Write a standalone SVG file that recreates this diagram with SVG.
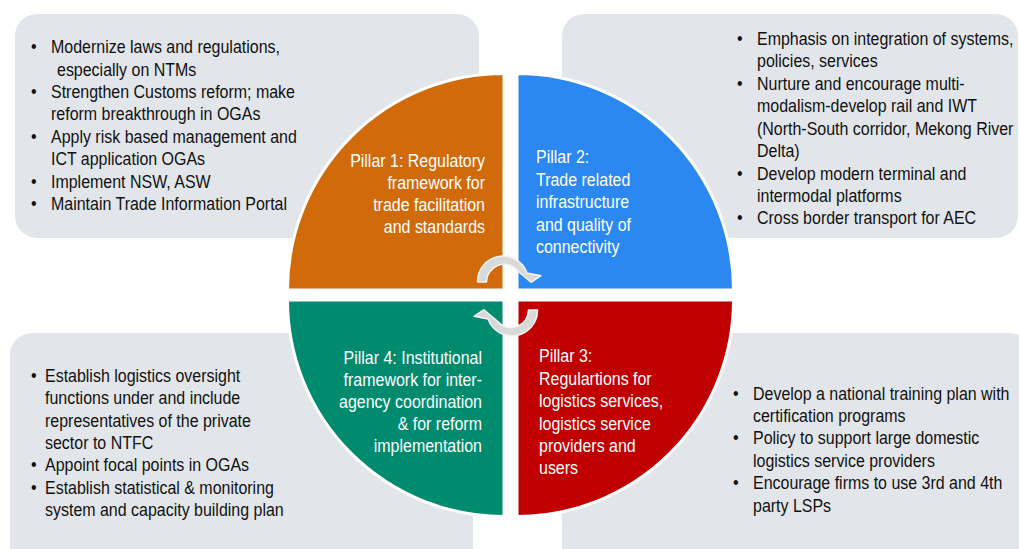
<svg xmlns="http://www.w3.org/2000/svg" width="1019" height="549" viewBox="0 0 1019 549">
<style>
.box{fill:#E2E6EA}
.q{stroke:#FFFFFF;stroke-width:3}
.t{font-family:"Liberation Sans",Arial,sans-serif;font-size:18.5px;fill:#111111}
.w{font-family:"Liberation Sans",Arial,sans-serif;font-size:18.5px;fill:#FFFFFF}
.r{text-anchor:end}
.arr{fill:#D9D9D9;stroke:#F4F4F4;stroke-width:1.5;stroke-linejoin:round}
</style>
<rect width="1019" height="549" fill="#FFFFFF"/>
<g id="box1">
<rect class="box" x="15" y="14" width="464" height="224" rx="22"/>
<text class="t" transform="matrix(.864 0 0 1 31 53)">•</text><text class="t" transform="matrix(.864 0 0 1 51 53)">Modernize laws and regulations,</text>
<text class="t" transform="matrix(.864 0 0 1 57 75.5)">especially on NTMs</text>
<text class="t" transform="matrix(.864 0 0 1 31 98)">•</text><text class="t" transform="matrix(.864 0 0 1 51 98)">Strengthen Customs reform; make</text>
<text class="t" transform="matrix(.864 0 0 1 51 120)">reform breakthrough in OGAs</text>
<text class="t" transform="matrix(.864 0 0 1 31 142.5)">•</text><text class="t" transform="matrix(.864 0 0 1 51 142.5)">Apply risk based management and</text>
<text class="t" transform="matrix(.864 0 0 1 51 165)">ICT application OGAs</text>
<text class="t" transform="matrix(.864 0 0 1 31 187.5)">•</text><text class="t" transform="matrix(.864 0 0 1 51 187.5)">Implement NSW, ASW</text>
<text class="t" transform="matrix(.864 0 0 1 31 210)">•</text><text class="t" transform="matrix(.864 0 0 1 51 210)">Maintain Trade Information Portal</text>
</g>
<g id="box2">
<rect class="box" x="562" y="14" width="456" height="224" rx="22"/>
<text class="t" transform="matrix(.864 0 0 1 737 45)">•</text><text class="t" transform="matrix(.864 0 0 1 757 45)">Emphasis on integration of systems,</text>
<text class="t" transform="matrix(.864 0 0 1 757 67)">policies, services</text>
<text class="t" transform="matrix(.864 0 0 1 737 90)">•</text><text class="t" transform="matrix(.864 0 0 1 757 90)">Nurture and encourage multi-</text>
<text class="t" transform="matrix(.864 0 0 1 757 112)">modalism-develop rail and IWT</text>
<text class="t" transform="matrix(.864 0 0 1 757 134.5)">(North-South corridor, Mekong River</text>
<text class="t" transform="matrix(.864 0 0 1 757 157)">Delta)</text>
<text class="t" transform="matrix(.864 0 0 1 737 179.5)">•</text><text class="t" transform="matrix(.864 0 0 1 757 179.5)">Develop modern terminal and</text>
<text class="t" transform="matrix(.864 0 0 1 757 201.5)">intermodal platforms</text>
<text class="t" transform="matrix(.864 0 0 1 737 224)">•</text><text class="t" transform="matrix(.864 0 0 1 757 224)">Cross border transport for AEC</text>
</g>
<g id="box4">
<rect class="box" x="10" y="333" width="463" height="240" rx="22"/>
<text class="t" transform="matrix(.864 0 0 1 31 382)">•</text><text class="t" transform="matrix(.864 0 0 1 45 382)">Establish logistics oversight</text>
<text class="t" transform="matrix(.864 0 0 1 45 404)">functions under and include</text>
<text class="t" transform="matrix(.864 0 0 1 45 426.5)">representatives of the private</text>
<text class="t" transform="matrix(.864 0 0 1 45 448.5)">sector to NTFC</text>
<text class="t" transform="matrix(.864 0 0 1 31 471)">•</text><text class="t" transform="matrix(.864 0 0 1 45 471)">Appoint focal points in OGAs</text>
<text class="t" transform="matrix(.864 0 0 1 31 493.5)">•</text><text class="t" transform="matrix(.864 0 0 1 45 493.5)">Establish statistical &amp; monitoring</text>
<text class="t" transform="matrix(.864 0 0 1 45 516)">system and capacity building plan</text>
</g>
<g id="box3">
<rect class="box" x="562" y="333" width="470" height="240" rx="22"/>
<text class="t" transform="matrix(.864 0 0 1 733 399.5)">•</text><text class="t" transform="matrix(.864 0 0 1 753 399.5)">Develop a national training plan with</text>
<text class="t" transform="matrix(.864 0 0 1 753 422)">certification programs</text>
<text class="t" transform="matrix(.864 0 0 1 733 444)">•</text><text class="t" transform="matrix(.864 0 0 1 753 444)">Policy to support large domestic</text>
<text class="t" transform="matrix(.864 0 0 1 753 466.5)">logistics service providers</text>
<text class="t" transform="matrix(.864 0 0 1 733 489)">•</text><text class="t" transform="matrix(.864 0 0 1 753 489)">Encourage firms to use 3rd and 4th</text>
<text class="t" transform="matrix(.864 0 0 1 753 511.5)">party LSPs</text>
</g>
<g id="pillar1">
<path class="q" fill="#D16A0B" d="M504,290 L287.5,290 A216.5,216.5 0 0 1 504,73.5 Z"/>
<text class="w r" transform="matrix(.864 0 0 1 485 166.5)">Pillar 1: Regulatory</text>
<text class="w r" transform="matrix(.864 0 0 1 485 188.5)">framework for</text>
<text class="w r" transform="matrix(.864 0 0 1 485 211)">trade facilitation</text>
<text class="w r" transform="matrix(.864 0 0 1 485 233)">and standards</text>
</g>
<g id="pillar2">
<path class="q" fill="#2B88F0" d="M517,290 L517,73.5 A216.5,216.5 0 0 1 733.5,290 Z"/>
<text class="w" transform="matrix(.864 0 0 1 536 163)">Pillar 2:</text>
<text class="w" transform="matrix(.864 0 0 1 536 185.5)">Trade related</text>
<text class="w" transform="matrix(.864 0 0 1 536 208)">infrastructure</text>
<text class="w" transform="matrix(.864 0 0 1 536 230.5)">and quality of</text>
<text class="w" transform="matrix(.864 0 0 1 536 252.5)">connectivity</text>
</g>
<g id="pillar4">
<path class="q" fill="#008A6E" d="M504,300 L504,516.5 A216.5,216.5 0 0 1 287.5,300 Z"/>
<text class="w r" transform="matrix(.864 0 0 1 482 363.5)">Pillar 4: Institutional</text>
<text class="w r" transform="matrix(.864 0 0 1 482 385.5)">framework for inter-</text>
<text class="w r" transform="matrix(.864 0 0 1 482 407.5)">agency coordination</text>
<text class="w r" transform="matrix(.864 0 0 1 482 430)">&amp; for reform</text>
<text class="w r" transform="matrix(.864 0 0 1 482 452)">implementation</text>
</g>
<g id="pillar3">
<path class="q" fill="#C00000" d="M517,300 L733.5,300 A216.5,216.5 0 0 1 517,516.5 Z"/>
<text class="w" transform="matrix(.864 0 0 1 539 362)">Pillar 3:</text>
<text class="w" transform="matrix(.864 0 0 1 539 385)">Regulartions for</text>
<text class="w" transform="matrix(.864 0 0 1 539 407)">logistics services,</text>
<text class="w" transform="matrix(.864 0 0 1 539 429.5)">logistics service</text>
<text class="w" transform="matrix(.864 0 0 1 539 452)">providers and</text>
<text class="w" transform="matrix(.864 0 0 1 539 473.5)">users</text>
</g>
<g id="connectors">
<path class="arr" d="M477.5,282 A25.5,25.5 0 0 1 527,273 L541,275.7 L531,282.3 L517.7,271 A17.5,17.5 0 0 0 486.5,282 Z"/>
<path class="arr" transform="rotate(180 507.5 296)" d="M477.5,282 A25.5,25.5 0 0 1 527,273 L541,275.7 L531,282.3 L517.7,271 A17.5,17.5 0 0 0 486.5,282 Z"/>
</g>
</svg>
